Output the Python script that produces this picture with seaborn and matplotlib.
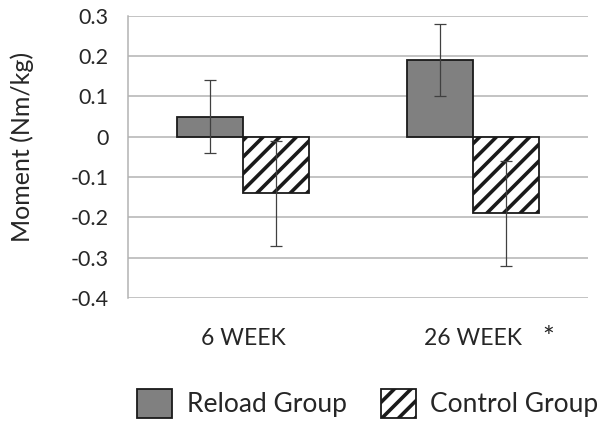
import pandas as pd
import matplotlib
matplotlib.use('Agg')
import matplotlib.pyplot as plt
import matplotlib.patches as mpatches
import matplotlib.transforms as mtransforms
import seaborn as sns

# data
weeks = ['6 WEEK', '26 WEEK']
groups = ['Reload Group', 'Control Group']
reload_vals = [0.05, 0.19]
control_vals = [-0.14, -0.19]
reload_err = [0.09, 0.09]
control_err = [0.13, 0.13]
yticks = [0.3, 0.2, 0.1, 0, -0.1, -0.2, -0.3, -0.4]
ytick_labels = ['0.3', '0.2', '0.1', '0', '-0.1', '-0.2', '-0.3', '-0.4']

df = pd.DataFrame({
    'week': weeks * 2,
    'group': [groups[0]] * 2 + [groups[1]] * 2,
    'moment': reload_vals + control_vals,
    'err': reload_err + control_err,
})

sns.set_style('white')
plt.rcParams['font.family'] = ['Lato', 'DejaVu Sans']
plt.rcParams['hatch.linewidth'] = 2.6
plt.rcParams['hatch.color'] = 'black'

fig = plt.figure(figsize=(6.02, 4.28), dpi=100)
ax = fig.add_axes([0.213, 0.304, 0.764, 0.659])

sns.barplot(data=df, x='week', y='moment', hue='group', order=weeks,
            hue_order=groups, palette=['#808080', 'white'], width=0.574,
            gap=0, errorbar=None, legend=False, edgecolor='#1a1a1a',
            linewidth=1.3, ax=ax)

# hatching for the control bars, error bars for all
errs = [reload_err, control_err]
vals = [reload_vals, control_vals]
bar_conts = list(ax.containers)
for i, cont in enumerate(bar_conts):
    for j, bar in enumerate(cont):
        if i == 1:
            bar.set_hatch('//')
        cx = bar.get_x() + bar.get_width() / 2
        ax.errorbar(cx, vals[i][j], yerr=errs[i][j], color='#404040',
                    elinewidth=0.9, capsize=4, capthick=0.9, zorder=5)

ax.set_ylim(-0.4, 0.3)
ax.set_xlim(-0.5, 1.5)
ax.set_yticks(yticks)
ax.set_yticklabels(ytick_labels)
ax.yaxis.grid(True, color='#b3b3b3', linewidth=1.1)
ax.set_axisbelow(True)
for s in ['top', 'right', 'bottom']:
    ax.spines[s].set_visible(False)
ax.spines['left'].set_color('#b3b3b3')
ax.spines['left'].set_linewidth(1.1)
ax.tick_params(axis='y', length=0, pad=14, labelsize=15.5)
ax.tick_params(axis='x', length=0, pad=22, labelsize=16.5)
ax.set_xlabel('')
ax.set_ylabel('Moment (Nm/kg)', fontsize=18)
ax.yaxis.set_label_coords(-0.205, 0.535)

trans = mtransforms.blended_transform_factory(ax.transData, ax.transAxes)
ax.text(1.326, -0.145, '*', transform=trans, fontsize=20, ha='center',
        va='center')

handles = [mpatches.Patch(facecolor='#808080', edgecolor='#1a1a1a',
                          linewidth=1.3, label=groups[0]),
           mpatches.Patch(facecolor='white', edgecolor='#1a1a1a',
                          linewidth=1.3, hatch='//', label=groups[1])]
fig.legend(handles=handles, loc='center', bbox_to_anchor=(0.611, 0.058),
           ncol=2, frameon=False, fontsize=19, handlelength=1.32,
           handleheight=1.32, handletextpad=0.55, columnspacing=1.3)

fig.savefig('out.png', dpi=100)
